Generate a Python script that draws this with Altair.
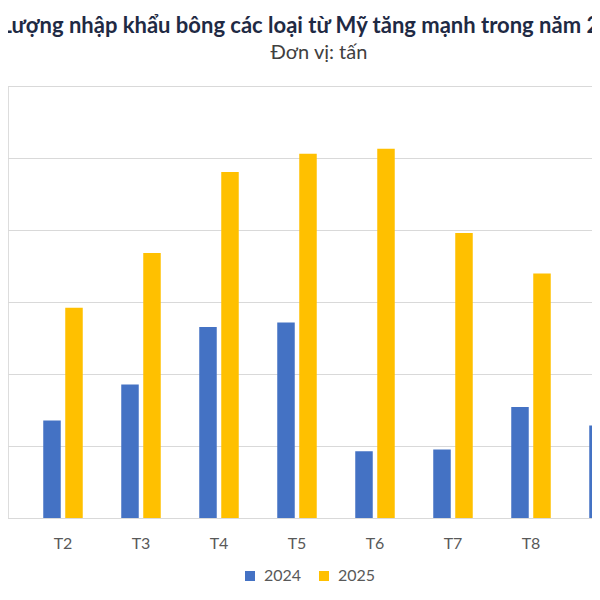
import altair as alt
import pandas as pd

months = ["T1", "T2", "T3", "T4", "T5", "T6", "T7", "T8", "T9"]
years = ["2024", "2025"]
# tons (gridline step = 20,000); None = not visible in the crop
v2024 = [None, 27060, 37050, 53060, 54340, 18540, 19010, 30860, 25670]
v2025 = [23450, 58420, 73600, 96080, 101160, 102540, 79150, 67940, None]
colors = ["#4472C4", "#FFC000"]

rows = []
for m, a, b in zip(months, v2024, v2025):
    rows.append({"month": m, "year": "2024", "value": a})
    rows.append({"month": m, "year": "2025", "value": b})
df = pd.DataFrame(rows)
df = df[df["value"].notna()]

FONT = "Lato"

chart = alt.Chart(df).mark_bar(clip=True).encode(
    x=alt.X(
        "month:N",
        sort=months,
        scale=alt.Scale(domain=months, range=[-62, 640], paddingInner=0, paddingOuter=0),
        axis=alt.Axis(
            title=None, domain=False, ticks=False, tickSize=0, labelPadding=17,
            labelFont=FONT, labelFontSize=16, labelColor="#595959", labelAngle=0,
        ),
    ),
    xOffset=alt.XOffset(
        "year:N", sort=years,
        scale=alt.Scale(paddingInner=0.2045, paddingOuter=0.875),
    ),
    y=alt.Y(
        "value:Q",
        scale=alt.Scale(domain=[0, 120000], nice=False),
        axis=alt.Axis(
            title=None, labels=False, ticks=False, domain=False,
            grid=True, gridColor="#D9D9D9", gridWidth=1,
            values=[0, 20000, 40000, 60000, 80000, 100000, 120000],
        ),
    ),
    color=alt.Color(
        "year:N",
        scale=alt.Scale(domain=years, range=colors),
        legend=alt.Legend(
            title=None, orient="none", legendX=234, legendY=482,
            direction="horizontal", symbolType="square", symbolSize=100,
            symbolStrokeWidth=0, labelFont=FONT, labelFontSize=16,
            labelColor="#595959", labelOffset=6, columnPadding=14, padding=0,
        ),
    ),
).properties(
    width=584,
    height=432,
    padding={"left": 0, "top": 78, "right": 0, "bottom": 74},
    autosize=alt.AutoSizeParams(type="none"),
    title=alt.Title(
        text="Lượng nhập khẩu bông các loại từ Mỹ tăng mạnh trong năm 2025",
        subtitle="Đơn vị: tấn",
        font=FONT, fontSize=22, fontWeight="bold", color="#1F2A44",
        subtitleFont=FONT, subtitleFontSize=20, subtitleColor="#404040",
        anchor="middle", frame="group", offset=22, subtitlePadding=5, dx=19,
    ),
).configure_view(stroke=None).configure(background="white")

chart.save("out.html", embed_options={"renderer": "svg", "actions": False})
